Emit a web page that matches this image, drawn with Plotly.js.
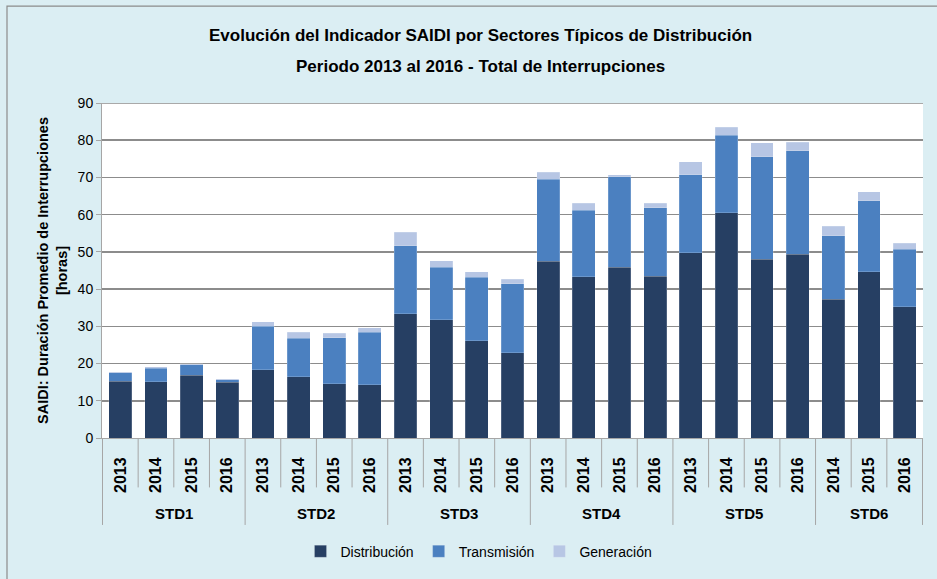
<!DOCTYPE html>
<html>
<head>
<meta charset="utf-8">
<script src="https://cdn.plot.ly/plotly-3.0.1.min.js"></script>
<style>
  html, body { margin: 0; padding: 0; background: #dbeef3; }
  #chart { width: 937px; height: 579px; }
</style>
</head>
<body>
<div id="chart"></div>
<script>
"use strict";

// DATA (horas)
const sectors = ["STD1","STD1","STD1","STD1","STD2","STD2","STD2","STD2",
  "STD3","STD3","STD3","STD3","STD4","STD4","STD4","STD4",
  "STD5","STD5","STD5","STD5","STD6","STD6","STD6"];
const years = ["2013","2014","2015","2016","2013","2014","2015","2016",
  "2013","2014","2015","2016","2013","2014","2015","2016",
  "2013","2014","2015","2016","2014","2015","2016"];

const distribucion = [15.3, 15.1, 16.8, 15.0, 18.3, 16.5, 14.6, 14.3,
  33.4, 31.8, 26.1, 22.9, 47.5, 43.3, 45.9, 43.4,
  49.8, 60.5, 48.0, 49.3, 37.3, 44.7, 35.2];
const transmision = [2.2, 3.7, 2.9, 0.7, 11.7, 10.3, 12.3, 14.1,
  18.2, 14.1, 17.1, 18.6, 22.0, 17.9, 24.3, 18.5,
  20.9, 20.8, 27.5, 27.9, 17.1, 19.0, 15.5];
const generacion = [0.3, 0.3, 0.2, 0.2, 1.2, 1.6, 1.2, 1.2,
  3.7, 1.7, 1.5, 1.2, 1.9, 1.9, 0.5, 1.2,
  3.5, 2.2, 3.8, 2.3, 2.5, 2.5, 1.6];

const titleLines = ["Evolución del Indicador SAIDI por Sectores Típicos de Distribución",
  "Periodo 2013 al 2016 - Total de Interrupciones"];

const FONT = "Liberation Sans, Arial, sans-serif";
const GREY = "#a6a6a6";

// one category per bar: "STD1 2013", ...
const cats = sectors.map((s, i) => s + " " + years[i]);

//HELPER
function serie(name, y, color){
	return {
		type: 'bar',
		name: name,
		x: cats,
		y: y,
		marker: {color: color, line: {color: 'rgba(255,255,255,0.35)', width: 0.5}},
		hoverinfo: 'y+name'
	};
}

const data = [
	serie("Distribución", distribucion, "#263f63"),
	serie("Transmisión", transmision, "#4b80c0"),
	serie("Generación", generacion, "#b7c6e4")
];

// plot area in pixels, for paper coordinates
const L = 102, R = 923, T = 103, B = 442;
const px = (v) => (v - L) / (R - L);
const py = (v) => (B - v) / (B - T);

// groups: first/last index of each sector
const groups = [];
sectors.forEach((s, i) => {
	if(groups.length == 0 || groups.at(-1).name != s){
		groups.push({name: s, first: i, last: i});
	}else{
		groups.at(-1).last = i;
	}
});

// separators below the axis: short between years, long between sectors
const shapes = [];
for(let b = 0; b <= cats.length; b++){
	const isGroup = (b == 0 || b == cats.length || sectors[b] != sectors[b-1]);
	shapes.push({
		type: 'line', xref: 'x', yref: 'paper',
		x0: b - 0.5, x1: b - 0.5,
		y0: py(B), y1: py(isGroup? 530: 492),
		line: {color: GREY, width: 1}
	});
}
// outer frame
shapes.push({
	type: 'rect', xref: 'paper', yref: 'paper',
	x0: px(7), x1: px(945), y0: py(590), y1: py(5),
	line: {color: "#8c8c8c", width: 1.2},
	fillcolor: 'rgba(0,0,0,0)',
	layer: 'below'
});
// top gridline at 90
shapes.push({
	type: 'line', xref: 'paper', yref: 'y',
	x0: 0, x1: 1, y0: 90, y1: 90,
	line: {color: "#8c8c8c", width: 1.5}
});

const annotations = titleLines.map((t, i) => ({
	text: "<b>" + t + "</b>",
	xref: 'paper', yref: 'paper',
	x: px(480), y: py(i == 0? 35: 66),
	xanchor: 'center', yanchor: 'middle',
	showarrow: false,
	font: {family: FONT, size: 17, color: "#000000"}
}));
groups.forEach((g) => {
	annotations.push({
		text: "<b>" + g.name + "</b>",
		xref: 'x', yref: 'paper',
		x: (g.first + g.last) / 2, y: py(518),
		xanchor: 'center', yanchor: 'middle',
		showarrow: false,
		font: {family: FONT, size: 15, color: "#000000"}
	});
});

const layout = {
	width: 937, height: 579,
	paper_bgcolor: "#dbeef3",
	plot_bgcolor: "#ffffff",
	barmode: 'stack',
	bargap: 0.36,
	margin: {l: L, r: 937 - R, t: T, b: 579 - B},
	font: {family: FONT, color: "#000000", size: 13},
	xaxis: {
		type: 'category',
		tickmode: 'array',
		tickvals: cats,
		ticktext: years.map((y) => "<b>" + y + "</b>"),
		tickangle: -90,
		tickfont: {family: FONT, size: 16, color: "#000000"},
		ticks: '',
		ticklabelstandoff: 12,
		showline: true,
		linecolor: GREY,
		linewidth: 1,
		showgrid: false
	},
	yaxis: {
		range: [0, 90],
		dtick: 10,
		tickfont: {family: FONT, size: 14, color: "#000000"},
		gridcolor: "#8c8c8c",
		gridwidth: 1.5,
		showline: true,
		linecolor: GREY,
		ticks: 'outside',
		ticklen: 5,
		tickcolor: GREY,
		zeroline: false,
		title: {
			text: "<b>SAIDI: Duración Promedio de Interrupciones<br>[horas]</b>",
			font: {family: FONT, size: 14.5, color: "#000000"},
			standoff: 6
		}
	},
	legend: {
		orientation: 'h',
		x: px(479), xanchor: 'center',
		y: py(557), yanchor: 'middle',
		font: {family: FONT, size: 14, color: "#000000"},
		bgcolor: 'rgba(0,0,0,0)',
		traceorder: 'normal',
		itemwidth: 30
	},
	annotations: annotations,
	shapes: shapes,
	showlegend: true
};

Plotly.newPlot('chart', data, layout, {displayModeBar: false, staticPlot: true});
</script>
</body>
</html>
